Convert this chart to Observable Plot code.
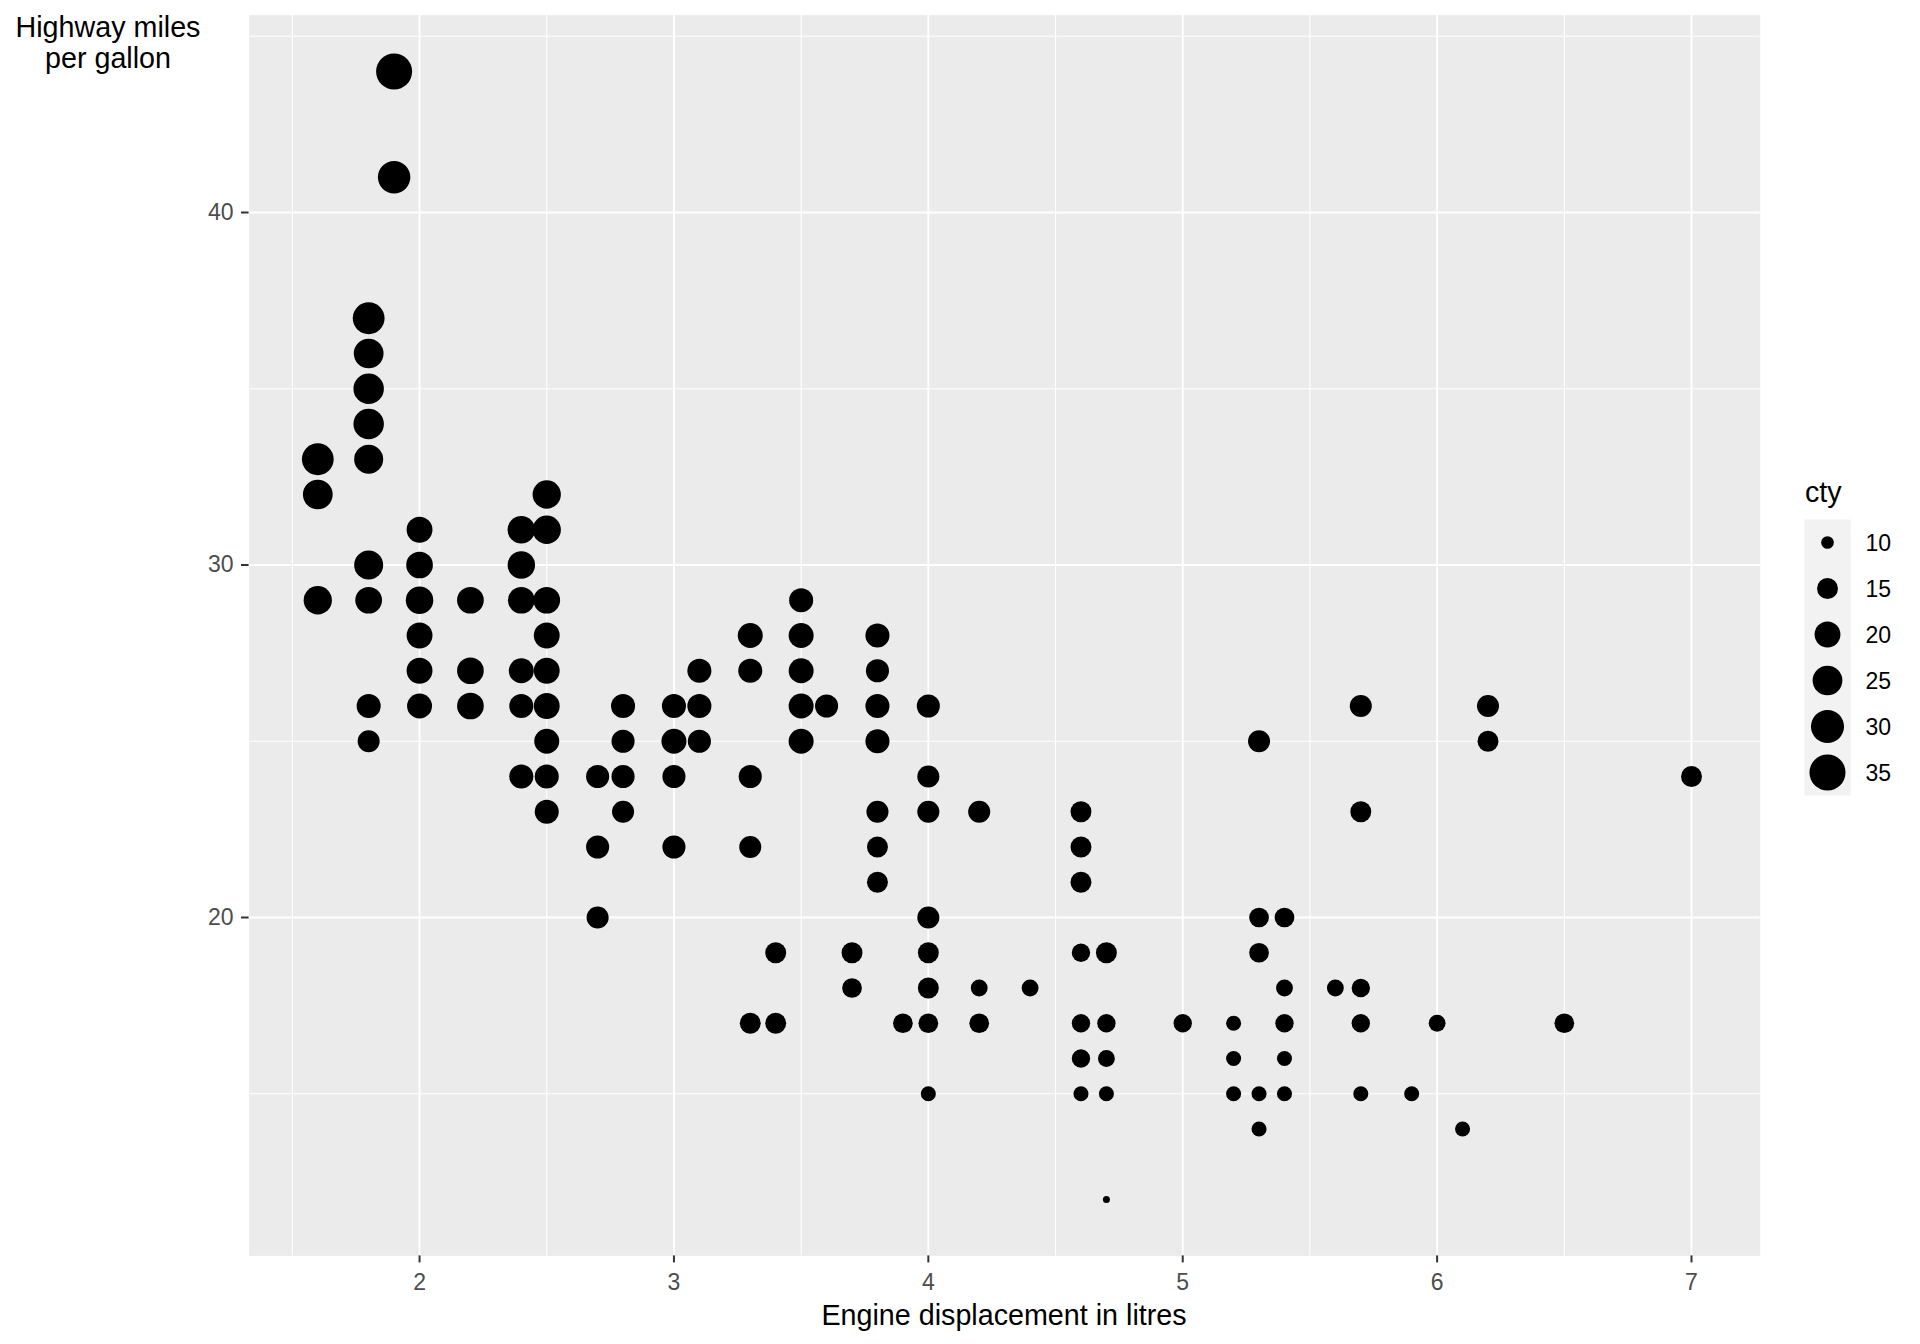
<!DOCTYPE html>
<html><head><meta charset="utf-8">
<script src="https://cdn.jsdelivr.net/npm/d3@7"></script>
<script src="https://cdn.jsdelivr.net/npm/@observablehq/plot@0.6"></script>
<style>
body{margin:0;background:#fff;}
#wrap{position:relative;width:1920px;height:1344px;font-family:"Liberation Sans",Arial,sans-serif;overflow:hidden;}
#wrap svg{position:absolute;}
.t{position:absolute;white-space:nowrap;color:#000;font-size:28.7px;line-height:28.7px;}
</style></head><body><div id="wrap"></div>
<script>
// Unique (displ, hwy) positions, with the largest cty drawn at each one
const displ = [
 1.6,1.6,1.6,
 1.8,1.8,1.8,1.8,1.8,1.8,1.8,1.8,1.8,
 1.9,1.9,
 2.0,2.0,2.0,2.0,2.0,2.0,
 2.2,2.2,2.2,
 2.4,2.4,2.4,2.4,2.4,2.4,
 2.5,2.5,2.5,2.5,2.5,2.5,2.5,2.5,2.5,
 2.7,2.7,2.7,
 2.8,2.8,2.8,2.8,
 3.0,3.0,3.0,3.0,
 3.1,3.1,3.1,
 3.3,3.3,3.3,3.3,3.3,
 3.4,3.4,
 3.5,3.5,3.5,3.5,3.5,
 3.6,
 3.7,3.7,
 3.8,3.8,3.8,3.8,3.8,3.8,3.8,
 3.9,
 4.0,4.0,4.0,4.0,4.0,4.0,4.0,4.0,
 4.2,4.2,4.2,
 4.4,
 4.6,4.6,4.6,4.6,4.6,4.6,4.6,
 4.7,4.7,4.7,4.7,4.7,
 5.0,
 5.2,5.2,5.2,
 5.3,5.3,5.3,5.3,5.3,
 5.4,5.4,5.4,5.4,5.4,
 5.6,
 5.7,5.7,5.7,5.7,5.7,
 5.9,
 6.0,
 6.1,
 6.2,6.2,
 6.5,
 7.0
];
const hwy = [
 33,32,29,
 37,36,35,34,33,30,29,26,25,
 44,41,
 31,30,29,28,27,26,
 29,27,26,
 31,30,29,27,26,24,
 32,31,29,28,27,26,25,24,23,
 24,22,20,
 26,25,24,23,
 26,25,24,22,
 27,26,25,
 28,27,24,22,17,
 19,17,
 29,28,27,26,25,
 26,
 19,18,
 28,27,26,25,23,22,21,
 17,
 26,24,23,20,19,18,17,15,
 23,18,17,
 18,
 23,22,21,19,17,16,15,
 19,17,16,15,12,
 17,
 17,16,15,
 25,20,19,15,14,
 20,18,17,16,15,
 18,
 26,23,18,17,15,
 15,
 17,
 14,
 26,25,
 17,
 24
];
const cty = [
 28,25,23,
 28,25,26,26,24,24,21,18,16,
 35,29,
 20,21,22,20,20,19,
 21,21,21,
 22,22,21,19,18,18,
 23,23,21,20,20,20,19,18,18,
 17,17,16,
 18,17,17,16,
 18,19,17,17,
 18,18,17,
 19,18,17,16,15,
 15,15,
 18,19,19,19,19,
 17,
 15,14,
 18,17,18,18,16,15,15,
 14,
 17,16,16,16,15,15,14,11,
 16,12,14,
 12,
 15,15,15,13,13,13,11,
 15,13,12,11,9,
 13,
 11,11,11,
 16,14,14,11,11,
 14,12,13,11,11,
 12,
 16,15,13,13,11,
 11,
 12,
 11,
 16,15,
 14,
 15
];
const xMajor = [2,3,4,5,6,7];
const xMinor = [1.5,2.5,3.5,4.5,5.5,6.5];
const yMajor = [20,30,40];
const yMinor = [15,25,35,45];
const legendBreaks = [10,15,20,25,30,35];
const ctyMin = 9, ctyMax = 35;
const xTitle = "Engine displacement in litres";
const yTitleLines = ["Highway miles","per gallon"];
const legendTitle = "cty";

const data = displ.map((d,i)=>({displ:d, hwy:hwy[i], cty:cty[i]}));
const font = '"Liberation Sans", Arial, sans-serif';
const rScale = () => ({type:"sqrt", domain:[0, ctyMax-ctyMin], range:[3.5,18]});
const fmt = d => String(d);

const chart = Plot.plot({
  width:1920, height:1344,
  marginLeft:248.6, marginRight:160.3, marginTop:14.6, marginBottom:88.6,
  style:{fontFamily:font, background:"transparent", overflow:"visible"},
  x:{domain:[1.33,7.27]},
  y:{domain:[10.4,45.6]},
  r:rScale(),
  marks:[
    Plot.frame({fill:"#EBEBEB", stroke:"none"}),
    Plot.gridX(xMinor,{stroke:"#ffffff", strokeOpacity:1, strokeWidth:1.1}),
    Plot.gridY(yMinor,{stroke:"#ffffff", strokeOpacity:1, strokeWidth:1.1}),
    Plot.gridX(xMajor,{stroke:"#ffffff", strokeOpacity:1, strokeWidth:1.9}),
    Plot.gridY(yMajor,{stroke:"#ffffff", strokeOpacity:1, strokeWidth:1.9}),
    Plot.axisX(xMajor,{tickSize:7, tickPadding:11, tickFormat:fmt, stroke:"#333333", strokeWidth:2, fill:"#4D4D4D", fontSize:23, label:null}),
    Plot.axisY(yMajor,{tickSize:7.6, tickPadding:8, tickFormat:fmt, stroke:"#333333", strokeWidth:2, fill:"#4D4D4D", fontSize:23, label:null}),
    Plot.dot(data,{x:"displ", y:"hwy", r:d=>d.cty-ctyMin, fill:"#000000"})
  ]
});

const legend = Plot.plot({
  width:116, height:276,
  marginLeft:0, marginRight:70, marginTop:0, marginBottom:0,
  style:{fontFamily:font, background:"transparent", overflow:"visible"},
  y:{type:"band", domain:legendBreaks, padding:0, axis:null},
  r:rScale(),
  marks:[
    Plot.frame({fill:"#F2F2F2", stroke:"none"}),
    Plot.dot(legendBreaks,{y:d=>d, r:d=>d-ctyMin, fill:"#000000"}),
    Plot.text(legendBreaks,{y:d=>d, text:d=>String(d), frameAnchor:"right", dx:15, dy:1, textAnchor:"start", fontSize:23, fill:"#000000"})
  ]
});

const wrap = document.getElementById("wrap");
chart.style.left = "0px"; chart.style.top = "0px";
wrap.appendChild(chart);
legend.style.left = "1804px"; legend.style.top = "519px";
wrap.appendChild(legend);

function addText(txt, css){
  const d = document.createElement("div");
  d.className = "t";
  d.innerHTML = txt;
  Object.assign(d.style, css);
  wrap.appendChild(d);
  return d;
}
addText(yTitleLines.join("<br>"), {left:"0px", width:"216px", top:"11.9px", textAlign:"center", lineHeight:"31px"});
addText(xTitle, {left:"1004px", top:"1300.5px", transform:"translateX(-50%)"});
addText(legendTitle, {left:"1805px", top:"477.7px"});
</script>
</body></html>
